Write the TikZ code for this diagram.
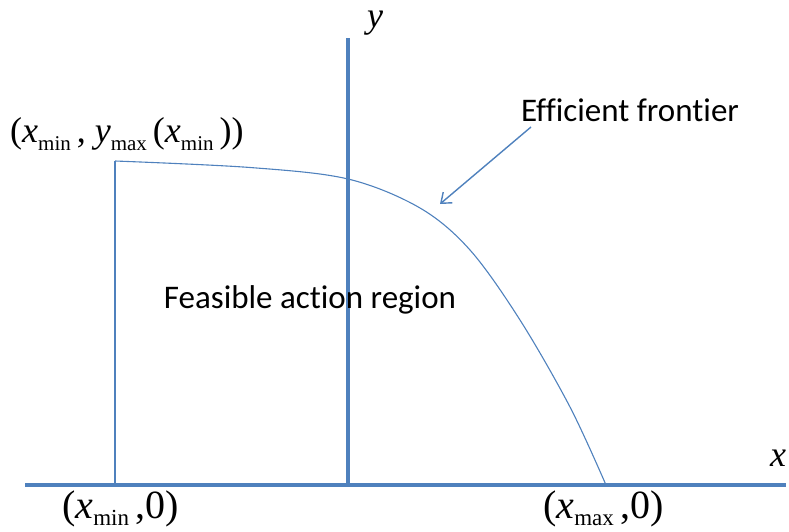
\documentclass[tikz,border=0pt]{standalone}
\usepackage{fontspec}
\setmainfont{Liberation Serif}
\newfontfamily\calib[Ligatures=NoCommon]{Carlito}
\usetikzlibrary{arrows.meta}
\definecolor{axisblue}{RGB}{79,129,189}
\newcommand\lsub[1]{\raisebox{-8pt}{\fontsize{21}{21}\selectfont #1}}
\newcommand\bsub[1]{\raisebox{-7pt}{\fontsize{23}{23}\selectfont #1}}
\begin{document}
\begin{tikzpicture}[x=1pt,y=1pt,
  axis/.style={draw=axisblue, line width=3.2pt},
  thin/.style={draw=axisblue, line width=1.1pt},
  mathlbl/.style={inner sep=0pt, anchor=base west, font=\fontsize{36}{40}\selectfont},
  bigmath/.style={inner sep=0pt, anchor=base west, font=\fontsize{40}{44}\selectfont},
  sanslbl/.style={inner sep=0pt, font=\calib\fontsize{33}{36}\selectfont},
  pointer/.style={draw=axisblue, line width=1.4pt, -{Straight Barb[length=9pt,width=14pt,line width=1.4pt]}}]
\useasboundingbox (0,0) rectangle (789,531);
% axes
\coordinate (xl) at (25,46);
\coordinate (xr) at (786,46);
\coordinate (yb) at (348,46);
\coordinate (yt) at (348,493);
\draw[axis] (xl) -- (xr);
\draw[axis] (yb) -- (yt);
% feasible region boundary
\coordinate (xminb) at (115,46);
\coordinate (xmint) at (115,370);
\coordinate (xmaxb) at (606,46);
\draw[thin] (xminb) -- (xmint);
\draw[thin] plot[smooth, tension=0.55] coordinates {(115,370) (250,363.5) (348,352) (420,323) (470,281) (520,211) (570,124) (606,46)};
% labels
\node[mathlbl] (tl) at (10,388) {(\textit{x}\lsub{min}\,, \textit{y}\lsub{max}\,(\textit{x}\lsub{min}\,))};
\node[bigmath] (bl) at (62,13) {(\textit{x}\bsub{min}\,,0)};
\node[bigmath] (br) at (543,13) {(\textit{x}\bsub{max}\,,0)};
\node[mathlbl] (ylab) at (367,503) {\textit{y}};
\node[mathlbl] (xlab) at (770,65) {\textit{x}};
\node[sanslbl] (ef) at (630,421) {Efficient frontier};
\node[sanslbl] (fr) at (310,231) {Feasible action region};
% pointer
\coordinate (ps) at (531,404);
\coordinate (pt) at (440,327);
\draw[pointer] (ps) -- (pt);
\end{tikzpicture}
\end{document}
